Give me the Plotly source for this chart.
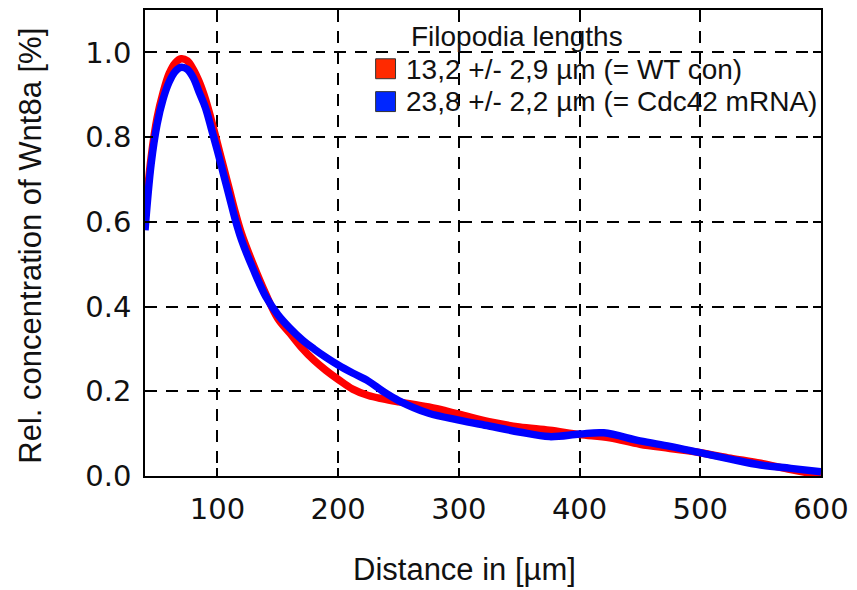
import plotly.graph_objects as go

# Data
x_wt = [40, 45, 50, 55, 60, 65, 70, 75, 80, 85, 90, 95, 100, 105, 110, 115, 120, 130, 140, 150, 160, 170, 180, 190, 200, 212, 225, 237, 250, 275, 300, 325, 350, 375, 400, 425, 450, 475, 500, 525, 550, 575, 600]
y_wt = [0.61, 0.75, 0.845, 0.905, 0.95, 0.975, 0.985, 0.98, 0.96, 0.93, 0.89, 0.84, 0.785, 0.73, 0.675, 0.62, 0.572, 0.497, 0.43, 0.372, 0.337, 0.302, 0.273, 0.249, 0.228, 0.205, 0.19, 0.182, 0.175, 0.163, 0.146, 0.128, 0.116, 0.108, 0.098, 0.09, 0.075, 0.065, 0.055, 0.042, 0.03, 0.015, 0.002]

x_cdc = [40, 45, 50, 55, 60, 65, 70, 75, 80, 85, 90, 95, 100, 105, 110, 115, 120, 130, 140, 150, 160, 170, 180, 190, 200, 212, 225, 237, 250, 275, 300, 325, 350, 375, 400, 420, 450, 475, 500, 525, 550, 575, 600]
y_cdc = [0.58, 0.735, 0.83, 0.89, 0.93, 0.955, 0.965, 0.96, 0.94, 0.905, 0.87, 0.82, 0.768, 0.713, 0.658, 0.603, 0.557, 0.486, 0.424, 0.381, 0.349, 0.322, 0.30, 0.28, 0.262, 0.243, 0.224, 0.20, 0.178, 0.148, 0.132, 0.118, 0.104, 0.093, 0.099, 0.102, 0.083, 0.07, 0.055, 0.04, 0.026, 0.018, 0.01]

series_names = ["13,2 +/- 2,9 µm (= WT con)", "23,8 +/- 2,2 µm (= Cdc42 mRNA)"]
series_colors = ["#ff0000", "#0000ff"]
swatch_colors = ["#ff2a00", "#0026ff"]
legend_title = "Filopodia lengths"
x_title = "Distance in [µm]"
y_title = "Rel. concentration of Wnt8a [%]"
x_ticks = [100, 200, 300, 400, 500, 600]
y_ticks = [0.0, 0.2, 0.4, 0.6, 0.8, 1.0]

W, H = 857, 590
ML, MR, MT, MB = 145, 32, 8, 114
PW, PH = W - ML - MR, H - MT - MB


def px(xp):
    return (xp - ML) / PW


def py(yp):
    return (H - MB - yp) / PH


fig = go.Figure()
for xs, ys, name, col in [(x_wt, y_wt, series_names[0], series_colors[0]),
                          (x_cdc, y_cdc, series_names[1], series_colors[1])]:
    fig.add_trace(go.Scatter(x=xs, y=ys, mode="lines", name=name,
                             line=dict(color=col, width=7.5, shape="spline", smoothing=1.0),
                             showlegend=False))

axis_common = dict(showline=True, linecolor="black", linewidth=1.5, mirror="ticks",
                   ticks="inside", ticklen=8, tickwidth=1.5, tickcolor="black",
                   showgrid=True, gridcolor="black", gridwidth=1.5, griddash="12px,9px",
                   zeroline=False,
                   tickfont=dict(family="DejaVu Sans", size=29, color="#111"))

fig.update_xaxes(range=[40, 600], tickvals=x_ticks, ticktext=[str(v) for v in x_ticks],
                 ticklabelstandoff=6, **axis_common)
fig.update_yaxes(range=[0, 1.1], tickvals=y_ticks, ticktext=[f"{v:.1f}" for v in y_ticks],
                 ticklabelstandoff=6, **axis_common)

shapes = []
annotations = []
# Manual legend
sw_y = [(57, 77), (90, 110)]
txt_y = [68, 100]
for i in range(2):
    shapes.append(dict(type="rect", xref="paper", yref="paper",
                       x0=px(377), x1=px(397), y0=py(sw_y[i][1]), y1=py(sw_y[i][0]),
                       fillcolor=swatch_colors[i], line=dict(color="#333333", width=1)))
    annotations.append(dict(text=series_names[i], xref="paper", yref="paper",
                            x=px(406), y=py(txt_y[i]), xanchor="left", yanchor="middle",
                            showarrow=False,
                            font=dict(family="Liberation Sans", size=28, color="#111")))
annotations.append(dict(text=legend_title, xref="paper", yref="paper",
                        x=px(411), y=py(35), xanchor="left", yanchor="middle",
                        showarrow=False,
                        font=dict(family="Liberation Sans", size=28, color="#111")))
# Axis titles
annotations.append(dict(text=x_title, xref="paper", yref="paper",
                        x=px(466), y=py(570), xanchor="center", yanchor="middle",
                        showarrow=False,
                        font=dict(family="Liberation Sans", size=31, color="#111")))
annotations.append(dict(text=y_title, xref="paper", yref="paper",
                        x=px(30), y=py(245), xanchor="center", yanchor="middle",
                        textangle=-90, showarrow=False,
                        font=dict(family="Liberation Sans", size=31, color="#111")))

fig.update_layout(width=W, height=H, margin=dict(l=ML, r=MR, t=MT, b=MB),
                  paper_bgcolor="white", plot_bgcolor="white",
                  shapes=shapes, annotations=annotations, showlegend=False)

fig.write_html("out.html")
